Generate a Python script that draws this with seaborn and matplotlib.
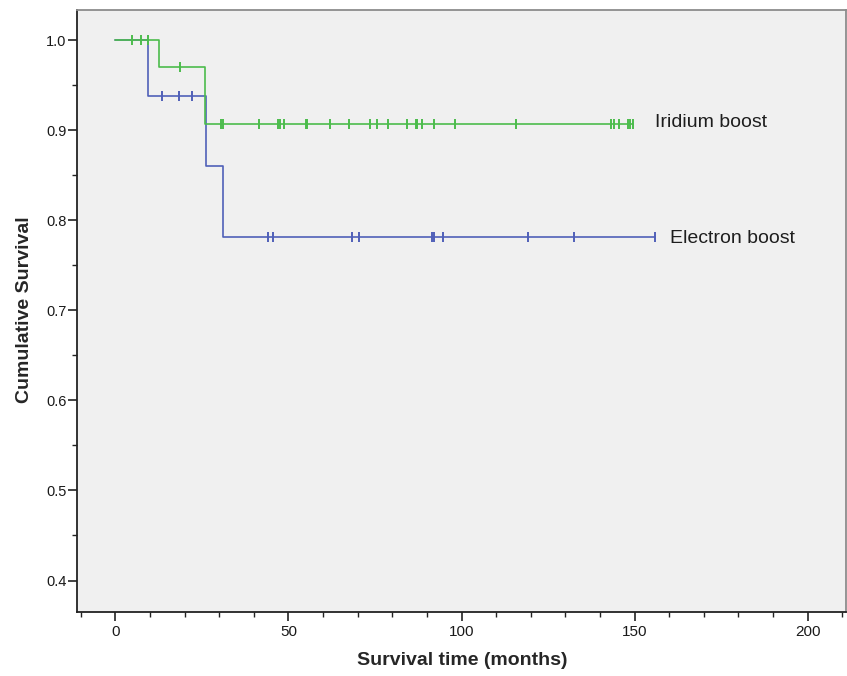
import numpy as np
import pandas as pd
import matplotlib
matplotlib.use("Agg")
import matplotlib.pyplot as plt
from matplotlib.ticker import MultipleLocator
import seaborn as sns

# ---- data ----
groups = ["Electron boost", "Iridium boost"]

electron_times = [0, 9.5, 26.1, 31.0]
electron_surv = [1.0, 0.938, 0.860, 0.781]
electron_censor = [13.6, 18.4, 22.1, 44.0, 45.6, 68.3, 70.3, 91.6, 92.1,
                   94.7, 119.3, 132.6, 155.9]

iridium_times = [0, 12.5, 25.9]
iridium_surv = [1.0, 0.970, 0.907]
iridium_censor = [4.7, 7.3, 9.5, 18.8, 30.5, 31.2, 41.6, 47.0, 47.6, 48.8,
                  55.0, 55.3, 62.0, 67.5, 73.7, 75.7, 78.7, 84.2, 86.8, 87.2,
                  88.7, 92.0, 98.1, 115.8, 143.1, 144.2, 145.6, 148.0, 148.7,
                  149.6]

x_ticks = [0, 50, 100, 150, 200]
y_ticks = [0.4, 0.5, 0.6, 0.7, 0.8, 0.9, 1.0]

colors = {"Electron boost": "#5060b8", "Iridium boost": "#4cbc4c"}


def step_value(times, surv, t):
    idx = np.searchsorted(times, t, side="right") - 1
    return surv[idx]


rows, crow = [], []
for g, ts, sv, cs in [("Electron boost", electron_times, electron_surv, electron_censor),
                      ("Iridium boost", iridium_times, iridium_surv, iridium_censor)]:
    for t, s in zip(ts, sv):
        rows.append((g, t, s))
    rows.append((g, max(cs), sv[-1]))
    for c in cs:
        crow.append((g, c, step_value(ts, sv, c)))
steps = pd.DataFrame(rows, columns=["group", "time", "surv"])
cens = pd.DataFrame(crow, columns=["group", "time", "surv"])

sns.set_style("white")
plt.rcParams["font.family"] = ["Liberation Sans", "DejaVu Sans"]

fig = plt.figure(figsize=(8.47, 6.76), dpi=100)
ax = fig.add_axes([77 / 847, (676 - 611.5) / 676, (846 - 77) / 847, (611.5 - 9.5) / 676])
ax.set_facecolor("#f0f0f0")

sns.lineplot(data=steps, x="time", y="surv", hue="group", hue_order=groups,
             palette=colors, drawstyle="steps-post", estimator=None,
             linewidth=1.2, legend=False, ax=ax)
for g in groups:
    sub = cens[cens["group"] == g]
    ax.plot(sub["time"], sub["surv"], linestyle="none", marker="|",
            markersize=7, markeredgewidth=1.4, color=colors[g])

ax.text(155.9, 0.909, "Iridium boost", fontsize=14, va="center", ha="left", color="#1e1e1e")
ax.text(160.3, 0.780, "Electron boost", fontsize=14, va="center", ha="left", color="#1e1e1e")

ax.set_xlim(-11.1, 211.1)
ax.set_ylim(0.3656, 1.034)
ax.set_xticks(x_ticks)
ax.set_xticklabels([str(v) for v in x_ticks])
ax.set_yticks(y_ticks)
ax.set_yticklabels([f"{v:.1f}" for v in y_ticks])
ax.xaxis.set_minor_locator(MultipleLocator(10))
ax.yaxis.set_minor_locator(MultipleLocator(0.05))

ax.tick_params(axis="x", which="major", direction="out", length=6.5, width=1.2,
               labelsize=11, pad=3, color="#222222", bottom=True, labelcolor="#1a1a1a")
ax.tick_params(axis="x", which="minor", direction="out", length=3.5, width=1.0,
               color="#222222", bottom=True)
ax.tick_params(axis="y", which="major", direction="out", length=6.5, width=1.2,
               labelsize=10.5, pad=1, color="#222222", left=True, labelcolor="#1a1a1a")
ax.tick_params(axis="y", which="minor", direction="out", length=3.5, width=1.0,
               color="#222222", left=True)

for side in ["left", "bottom"]:
    ax.spines[side].set_color("#222222")
    ax.spines[side].set_linewidth(1.3)
for side in ["top", "right"]:
    ax.spines[side].set_color("#8c8c8c")
    ax.spines[side].set_linewidth(1.3)

ax.set_xlabel("Survival time (months)", fontsize=14, fontweight="bold")
ax.set_ylabel("Cumulative Survival", fontsize=14, fontweight="bold")
ax.xaxis.set_label_coords((462.5 - 77) / (846 - 77), -(652 - 611.5) / (611.5 - 9.5))
ax.yaxis.set_label_coords(-(77 - 33) / (846 - 77), (611.5 - 310) / (611.5 - 9.5))

fig.savefig("out.png", dpi=100)
